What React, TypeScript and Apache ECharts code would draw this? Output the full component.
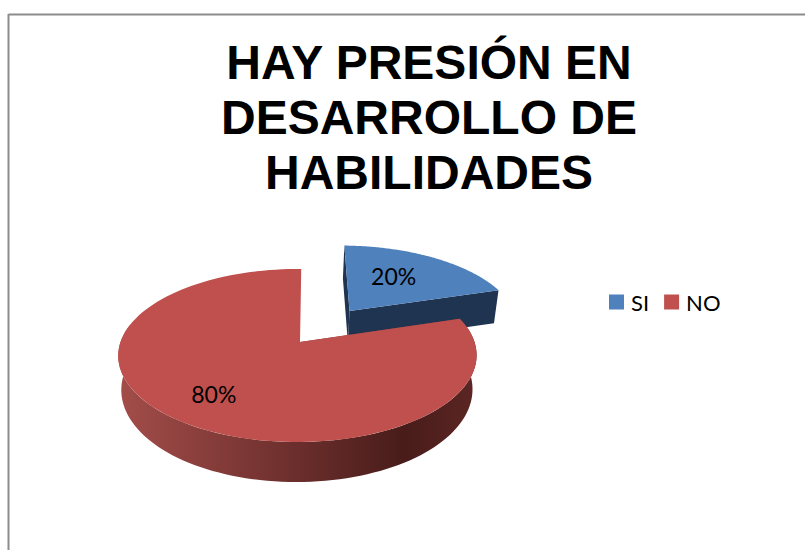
import React, { useEffect, useRef } from "react";
import * as echarts from "echarts";

const titleLines = ["HAY PRESIÓN EN", "DESARROLLO DE", "HABILIDADES"];
const categories = ["SI", "NO"];
const percentages = [20, 80];
const explosions = [0.49, 0];
const topColors = ["#4f81bd", "#c0504d"];
const labelOffsetDegrees = [-5, 0];
const labelRadii = [0.6, 0.71];

const START = 1.2;
const view = { x0: 301.5, s: -4, r: 177, cy: 342, sy: 84.4, k: 0.156, c: 2.5 / 177 };
const rad = (d: number) => (d * Math.PI) / 180;

function project(u: number, v: number, lower: boolean): number[] {
  const den = 1 - view.k * v;
  const x = view.x0 + (view.r * u + view.s) / den;
  const y = view.cy + (view.sy * v) / den;
  if (!lower) return [x, y];
  return [x - 0.5 + (297.5 - x) * 0.02, y + 33 + 7 * Math.max(v, 0)];
}

function renderWedge(idx: number) {
  const total = percentages.reduce((a, b) => a + b, 0);
  const before = percentages.slice(0, idx).reduce((a, b) => a + b, 0);
  const a0 = START + (before / total) * 360;
  const a1 = a0 + (percentages[idx] / total) * 360;
  const mid = rad((a0 + a1) / 2);
  const e = explosions[idx];
  const ex = e * Math.sin(mid);
  const ey = -e * Math.cos(mid);
  const rim = (deg: number, lower: boolean) =>
    project(ex + Math.sin(rad(deg)), ey - Math.cos(rad(deg)), lower);
  const apex = (lower: boolean) => project(ex + view.c, ey, lower);

  const topPts: number[][] = [apex(false)];
  for (let d = a0; d <= a1 + 1e-6; d += (a1 - a0) / 120) topPts.push(rim(d, false));

  const children: any[] = [];
  const isRed = idx === 1;
  const sideFill: any = isRed
    ? new echarts.graphic.LinearGradient(0, 0, 1, 0, [
        { offset: 0, color: "#a34d4a" },
        { offset: 0.5, color: "#6b2e2c" },
        { offset: 0.8, color: "#481c1a" },
        { offset: 1, color: "#5c2623" },
      ])
    : "#1f3450";

  // cut faces
  const face = (deg: number) => [apex(false), rim(deg, false), rim(deg, true), apex(true)];
  children.push({ type: "polygon", shape: { points: face(a0) }, style: { fill: isRed ? "#7a3a38" : "#1f3450" } });
  children.push({ type: "polygon", shape: { points: face(a1) }, style: { fill: isRed ? "#7a3a38" : "#1f3450" } });

  // outer face, front part only
  const from = Math.max(a0, 78);
  const to = Math.min(a1, 282);
  if (to > from) {
    const upper: number[][] = [];
    const lowerPts: number[][] = [];
    for (let d = from; d <= to + 1e-6; d += (to - from) / 100) {
      upper.push(rim(d, false));
      lowerPts.unshift(rim(d, true));
    }
    children.push({ type: "polygon", shape: { points: upper.concat(lowerPts) }, style: { fill: sideFill } });
  }

  children.push({ type: "polygon", shape: { points: topPts }, style: { fill: topColors[idx] } });

  const lm = rad((a0 + a1) / 2 + labelOffsetDegrees[idx]);
  const lp = project(ex + labelRadii[idx] * Math.sin(lm), ey - labelRadii[idx] * Math.cos(lm), false);
  children.push({
    type: "text",
    style: {
      text: percentages[idx] + "%",
      x: lp[0],
      y: lp[1],
      align: "center",
      verticalAlign: "middle",
      fontFamily: "Lato",
      fontSize: 23,
      fill: "#000",
    },
  });
  return { type: "group", children };
}

export default function App() {
  const ref = useRef<HTMLDivElement>(null);
  useEffect(() => {
    document.body.style.margin = "0";
    const chart = echarts.init(ref.current!, null, { renderer: "svg" });
    chart.setOption({
      animation: false,
      backgroundColor: "#fff",
      title: {
        text: titleLines.join("\n"),
        left: 424,
        top: 30,
        textAlign: "center",
        textStyle: {
          fontFamily: "Liberation Sans",
          fontWeight: "bold",
          fontSize: 48,
          lineHeight: 55,
          color: "#000",
        },
      },
      legend: {
        data: categories,
        left: 604,
        top: 286,
        icon: "rect",
        itemWidth: 15,
        itemHeight: 15,
        itemGap: 15,
        textStyle: { fontFamily: "Lato", fontSize: 22, color: "#000", padding: [0, 0, 0, 2] },
      },
      graphic: [
        { type: "line", shape: { x1: 8.5, y1: 14.5, x2: 805, y2: 14.5 }, style: { stroke: "#8c8c8c", lineWidth: 2 } },
        { type: "line", shape: { x1: 8.5, y1: 14, x2: 8.5, y2: 550 }, style: { stroke: "#8c8c8c", lineWidth: 2 } },
      ],
      series: categories.map((name, i) => ({
        type: "custom",
        name,
        coordinateSystem: "none",
        itemStyle: { color: topColors[i] },
        data: [percentages[i]],
        renderItem: () => renderWedge(i),
      })),
    });
    return () => chart.dispose();
  }, []);
  return <div ref={ref} style={{ width: 805, height: 550 }} />;
}
